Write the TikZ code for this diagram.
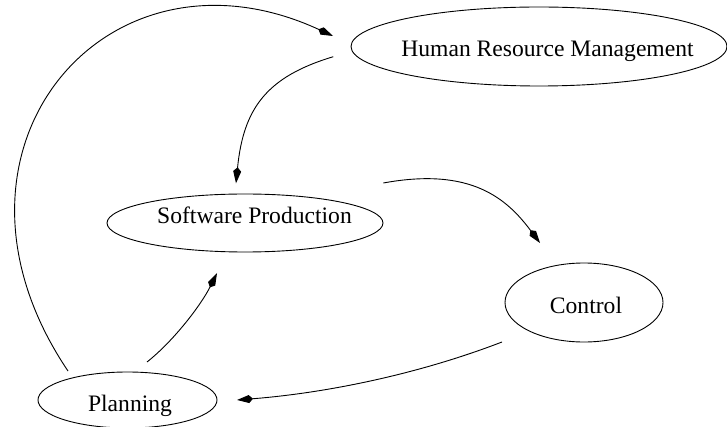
\documentclass[tikz,border=0pt]{standalone}
\usepackage{fontspec}
\setmainfont{Liberation Serif}
\usetikzlibrary{arrows.meta,shapes.geometric}
\newcommand\ntext[2]{\makebox[0pt]{\hspace*{#1}#2}}
\begin{document}
\begin{tikzpicture}[x=1pt,y=-1pt,
  ell/.style={draw, ellipse, inner sep=0pt, outer sep=0pt, line width=0.9pt,
    font=\fontsize{23.6pt}{28pt}\selectfont, text depth=0pt},
  edge/.style={line width=0.9pt, -{Kite[length=16pt,width=8pt,inset=4pt]}}]
\useasboundingbox (0,0) rectangle (727,427);
\node[ell, minimum width=376pt, minimum height=79pt, text height=20.4pt] (hrm) at (539,46.5) {\ntext{17pt}{Human Resource Management}};
\node[ell, minimum width=276pt, minimum height=58pt, text height=2pt] (sp) at (245,223) {\ntext{19pt}{Software Production}};
\node[ell, minimum width=158pt, minimum height=79pt, text height=21.6pt] (ctl) at (584,302.5) {\ntext{4pt}{Control}};
\node[ell, minimum width=179pt, minimum height=56pt, text height=23.4pt] (pl) at (127.5,400) {\ntext{5pt}{Planning}};
\draw[edge] ([shift={(-59.5,-29)}]pl.center) .. controls +(-148.4,-220) and +(-227.5,-105) .. ([shift={(-18,-10.5)}]hrm.west);
\draw[edge] ([shift={(-17.7,10.2)}]hrm.west) .. controls +(-67.1,20.1) and +(7.4,-74.6) .. ([shift={(-9,-10.7)}]sp.north);
\draw[edge] ([shift={(0.3,-40)}]sp.east) .. controls +(88.2,-16.2) and +(-33,-44) .. ([shift={(-44,-20)}]ctl.north);
\draw[edge] ([shift={(-82,0)}]ctl.south) .. controls +(-84,32.3) and +(89.7,-7.1) .. ([shift={(20,0)}]pl.east);
\draw[edge] ([shift={(19.5,-10)}]pl.north) .. controls +(27.4,-21.7) and +(-15.6,31.3) .. ([shift={(-28,21)}]sp.south);
\end{tikzpicture}
\end{document}
